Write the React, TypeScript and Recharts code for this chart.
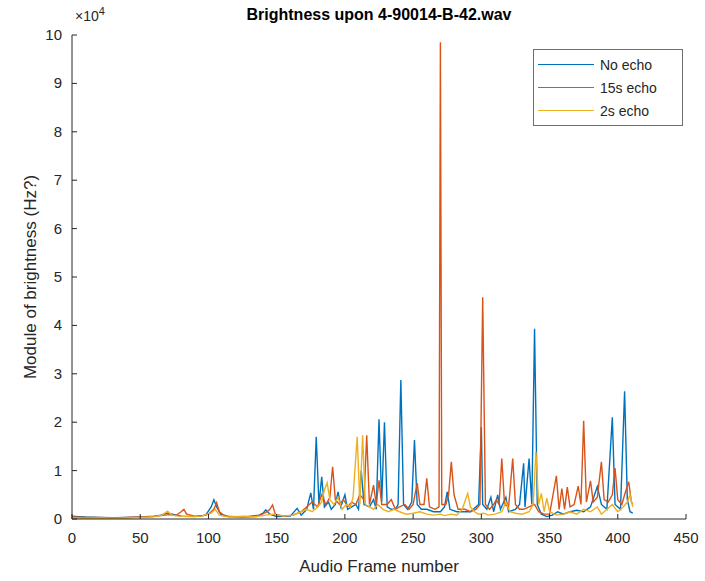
import React from 'react';
import { LineChart, Line, XAxis, YAxis } from 'recharts';

// frame numbers and brightness values
const noEchoFrames = [0, 5, 10, 20, 30, 40, 50, 60, 65, 70, 75, 80, 90, 98, 102, 104, 106, 109, 115, 125, 135, 140, 142, 145, 150, 160, 165, 168, 172, 175, 177, 179, 181, 183, 185, 188, 190, 193, 195, 197, 200, 202, 205, 208, 210, 212, 214, 218, 221, 223, 225, 227, 229, 231, 234, 237, 239, 241, 243, 246, 249, 251, 253, 256, 260, 265, 270, 273, 275, 277, 282, 287, 292, 296, 298, 300, 301, 304, 307, 309, 312, 314, 318, 320, 325, 328, 331, 332, 335, 337, 339, 341, 344, 348, 352, 356, 360, 365, 370, 375, 380, 385, 388, 392, 396, 398, 402, 405, 407, 409, 411];
const noEchoValues = [600, 500, 400, 300, 250, 300, 400, 600, 800, 1200, 900, 600, 500, 800, 2500, 4000, 2500, 1000, 500, 400, 500, 1200, 1900, 1000, 500, 600, 2200, 800, 2000, 5400, 2000, 17000, 3000, 8700, 2500, 3500, 2000, 3000, 5600, 2500, 5000, 2000, 2500, 3000, 2000, 10000, 3000, 2500, 4000, 2000, 20600, 3500, 20000, 2500, 2000, 2000, 3000, 28700, 3000, 2000, 3500, 16300, 3000, 2000, 2000, 1500, 1500, 2500, 5600, 2000, 1500, 1500, 1500, 2500, 3000, 19000, 3000, 2000, 4500, 1500, 5000, 2000, 4500, 1500, 2000, 3000, 11500, 2500, 12500, 3000, 39300, 3000, 1000, 500, 800, 1500, 1000, 1500, 1800, 1500, 2500, 6700, 3000, 2000, 21000, 3000, 2000, 26400, 4000, 1500, 1200];

const echo15Frames = [0, 10, 20, 30, 40, 50, 60, 68, 72, 76, 80, 82, 84, 90, 96, 100, 104, 106, 108, 112, 120, 130, 138, 143, 145, 147, 149, 155, 162, 168, 172, 176, 180, 183, 186, 189, 191, 193, 196, 199, 202, 205, 208, 211, 214, 216, 218, 221, 223, 225, 227, 231, 234, 237, 240, 244, 247, 250, 253, 255, 258, 260, 262, 266, 269, 270, 271, 274, 276, 278, 280, 283, 288, 292, 296, 299, 301, 303, 306, 309, 311, 313, 315, 317, 320, 323, 325, 328, 331, 335, 339, 342, 346, 350, 355, 357, 359, 361, 363, 365, 368, 371, 373, 375, 377, 380, 382, 385, 388, 390, 393, 396, 398, 400, 403, 405, 408, 410, 411];
const echo15Values = [400, 300, 300, 200, 300, 400, 500, 800, 900, 700, 1500, 2000, 1000, 600, 700, 1000, 2000, 3400, 1500, 600, 500, 600, 800, 1500, 2000, 2900, 1000, 600, 800, 1500, 2500, 3500, 2500, 5000, 3000, 4500, 10800, 4000, 3000, 4000, 2500, 3500, 3000, 5000, 4000, 17300, 3000, 7000, 3000, 8000, 3000, 3000, 4000, 2000, 2500, 3000, 2000, 3000, 7400, 3000, 3000, 8400, 2500, 2000, 2500, 98500, 3000, 3000, 5000, 11800, 5000, 2000, 2000, 1500, 2000, 3000, 45800, 3000, 2000, 3000, 4000, 3000, 12500, 3000, 2500, 12500, 3000, 2000, 2000, 2500, 3000, 1500, 1000, 1000, 8900, 2000, 6300, 2000, 6600, 2500, 3000, 6800, 3000, 20300, 3500, 7900, 3500, 4500, 11800, 4000, 3500, 5000, 10500, 4000, 3000, 5000, 7700, 3500, 3000];

const echo2Frames = [0, 10, 20, 30, 40, 50, 60, 66, 70, 73, 78, 85, 95, 102, 105, 108, 115, 125, 135, 142, 148, 155, 162, 168, 172, 176, 180, 183, 185, 187, 189, 192, 195, 198, 201, 204, 206, 209, 211, 213, 215, 218, 221, 224, 228, 232, 236, 240, 245, 250, 255, 260, 265, 270, 273, 278, 282, 286, 290, 292, 295, 298, 302, 305, 310, 315, 318, 321, 325, 330, 335, 338, 340, 342, 344, 346, 348, 350, 355, 360, 365, 370, 375, 380, 385, 388, 392, 396, 400, 404, 407, 409, 411];
const echo2Values = [200, 150, 200, 150, 200, 300, 500, 800, 1600, 800, 600, 500, 600, 1200, 2000, 800, 400, 500, 500, 800, 1000, 600, 800, 1500, 2000, 1500, 2500, 3500, 6000, 7500, 4000, 3000, 4500, 2000, 3000, 2500, 4500, 17000, 3000, 17300, 3000, 2500, 2000, 3000, 2000, 1500, 2000, 1500, 1000, 1200, 1500, 1000, 800, 1000, 700, 1000, 800, 2000, 5300, 2500, 1500, 1000, 1200, 800, 1000, 1500, 3500, 1500, 1200, 1000, 1500, 3000, 13900, 3000, 5300, 1500, 4300, 1500, 800, 1000, 1500, 1000, 2000, 1500, 2500, 1000, 2000, 3000, 1500, 2500, 3500, 5000, 2500];

const xTicks = [0, 50, 100, 150, 200, 250, 300, 350, 400, 450];
const yTicks = [0, 10000, 20000, 30000, 40000, 50000, 60000, 70000, 80000, 90000, 100000];

const FONT = '"Liberation Sans", Arial, sans-serif';
const AXIS = '#262626';

const toRows = (frames: number[], values: number[]) =>
  frames.map((f, i) => ({ frame: f, value: values[i] }));

const series = [
  { name: 'No echo', color: '#0072BD', data: toRows(noEchoFrames, noEchoValues) },
  { name: '15s echo', color: '#D95319', data: toRows(echo15Frames, echo15Values) },
  { name: '2s echo', color: '#EDB120', data: toRows(echo2Frames, echo2Values) },
];

const XTick = ({ x, y, payload }: any) => (
  <g>
    <line x1={x} x2={x} y1={y} y2={y - 5} stroke={AXIS} />
    <text x={x} y={y + 24} textAnchor="middle" fontSize={15} fill={AXIS} fontFamily={FONT}>
      {payload.value}
    </text>
  </g>
);

const YTick = ({ x, y, payload }: any) => (
  <g>
    <line x1={x} x2={x + 5} y1={y} y2={y} stroke={AXIS} />
    <text x={x - 10} y={y + 5} textAnchor="end" fontSize={15} fill={AXIS} fontFamily={FONT}>
      {payload.value / 10000}
    </text>
  </g>
);

const LegendBox = () => (
  <div
    style={{
      position: 'absolute',
      left: 533,
      top: 49,
      border: '1px solid #6e6e6e',
      background: '#fff',
      width: 148,
      padding: '3px 0',
      fontFamily: FONT,
      fontSize: 14,
      color: AXIS,
      zIndex: 2,
    }}
  >
    {series.map((s) => (
      <div key={s.name} style={{ display: 'flex', alignItems: 'center', height: 23 }}>
        <div style={{ width: 56, height: 1.5, background: s.color, marginLeft: 4, marginRight: 6 }} />
        <span>{s.name}</span>
      </div>
    ))}
  </div>
);

export default function App() {
  return (
    <div style={{ position: 'absolute', left: 0, top: 0, width: 705, height: 581, background: '#fff' }}>
      <div
        style={{
          position: 'absolute',
          top: 6,
          left: 72,
          width: 614,
          textAlign: 'center',
          fontFamily: FONT,
          fontWeight: 'bold',
          fontSize: 16,
          color: '#000',
        }}
      >
        Brightness upon 4-90014-B-42.wav
      </div>
      <div style={{ position: 'absolute', top: 5, left: 75, fontFamily: FONT, fontSize: 14, color: AXIS }}>
        ×10<sup style={{ fontSize: 11 }}>4</sup>
      </div>
      <LegendBox />
      <LineChart width={705} height={581} margin={{ top: 35, right: 19, bottom: 12, left: 0 }}>
        <XAxis
          type="number"
          dataKey="frame"
          domain={[0, 450]}
          ticks={xTicks}
          height={50}
          tickSize={0}
          tickMargin={0}
          tick={<XTick />}
          axisLine={{ stroke: AXIS }}
          allowDataOverflow
          label={{
            content: () => (
              <text x={379} y={572} textAnchor="middle" fontSize={17} fill={AXIS} fontFamily={FONT}>
                Audio Frame number
              </text>
            ),
          }}
        />
        <YAxis
          type="number"
          domain={[0, 100000]}
          ticks={yTicks}
          width={72}
          tickSize={0}
          tickMargin={0}
          tick={<YTick />}
          axisLine={{ stroke: AXIS }}
          allowDataOverflow
          label={{
            content: () => (
              <text
                x={36}
                y={277}
                transform="rotate(-90 36 277)"
                textAnchor="middle"
                fontSize={17}
                fill={AXIS}
                fontFamily={FONT}
              >
                Module of brightness (Hz?)
              </text>
            ),
          }}
        />
        {series.map((s) => (
          <Line
            key={s.name}
            data={s.data}
            dataKey="value"
            name={s.name}
            type="linear"
            stroke={s.color}
            strokeWidth={1.4}
            dot={false}
            isAnimationActive={false}
          />
        ))}
      </LineChart>
    </div>
  );
}
